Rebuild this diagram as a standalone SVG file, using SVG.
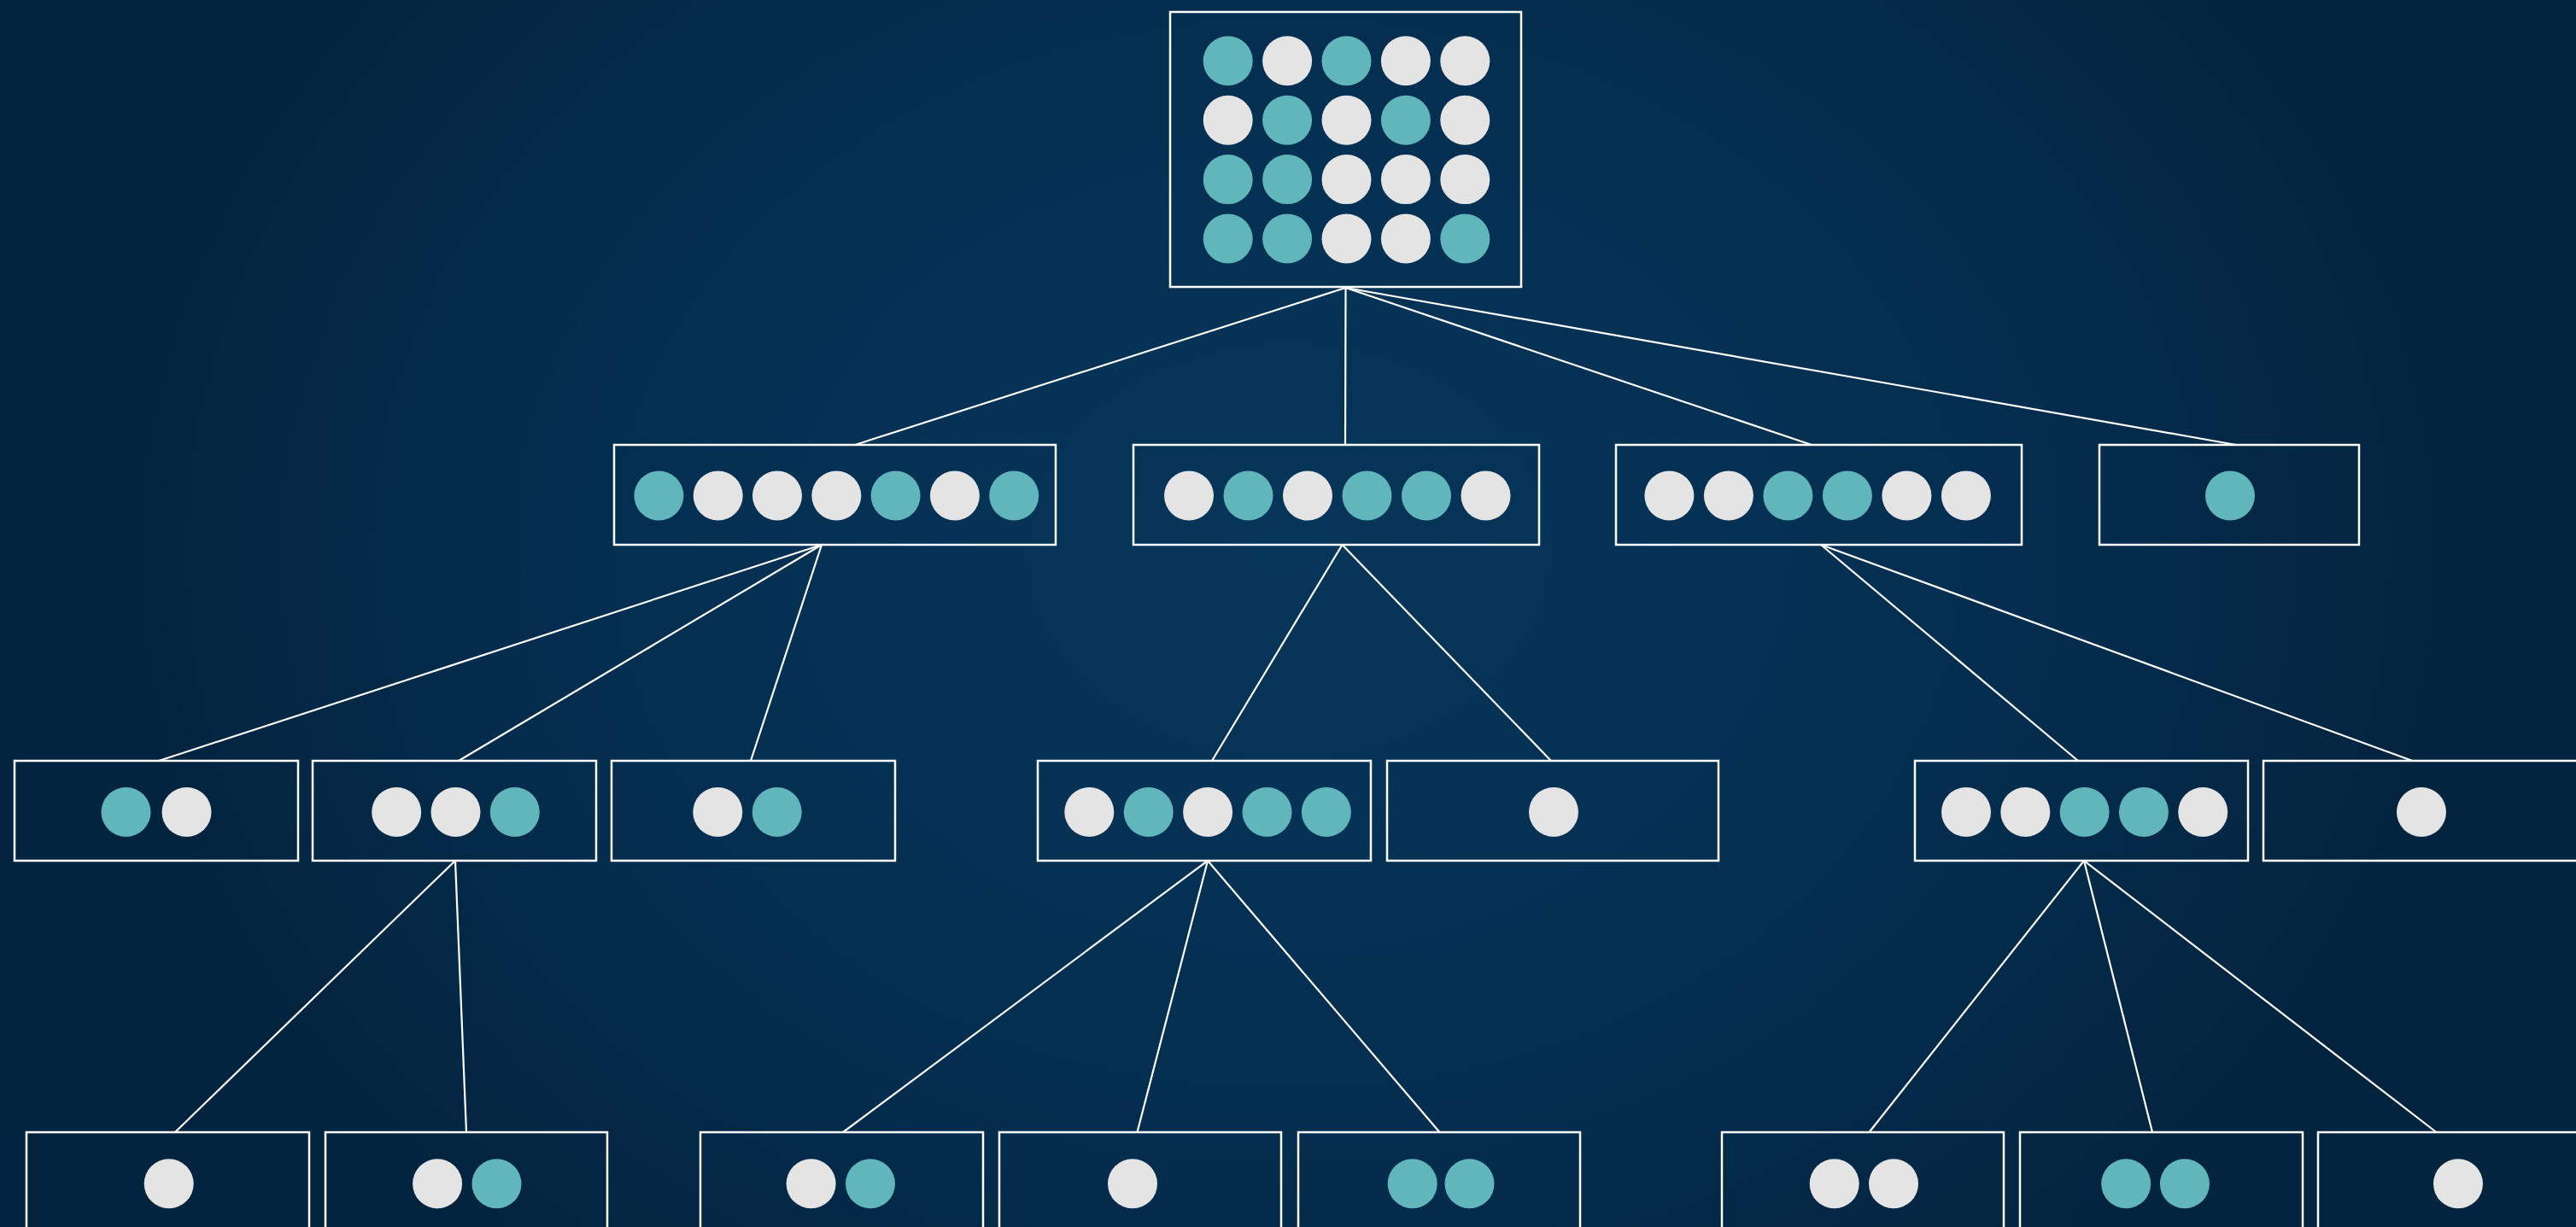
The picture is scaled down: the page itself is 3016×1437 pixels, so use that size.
<svg xmlns="http://www.w3.org/2000/svg" width="3016" height="1437" viewBox="0 0 3016 1437">
<defs>
<radialGradient id="bg" cx="0.5" cy="0.45" r="0.75" gradientTransform="translate(0.5 0.45) scale(0.6 1) translate(-0.5 -0.45)">
<stop offset="0" stop-color="#063659"/>
<stop offset="0.6" stop-color="#042e50"/>
<stop offset="1" stop-color="#03243f"/>
</radialGradient>
<style>
.box{fill:none;stroke:#ffffff;stroke-width:2.5}
.t{fill:#60b6bb}
.w{fill:#e4e4e4}
.edges line{stroke:#ffffff;stroke-width:2.2}
</style>
</defs>
<rect x="0" y="0" width="3016" height="1437" fill="url(#bg)"/>
<g class="edges" id="connectors">
<line x1="1575.5" y1="337" x2="1001" y2="521"/>
<line x1="1575.5" y1="337" x2="1575" y2="521"/>
<line x1="1575.5" y1="337" x2="2121" y2="521"/>
<line x1="1575.5" y1="337" x2="2618" y2="521"/>
<line x1="962" y1="638" x2="186" y2="891"/>
<line x1="962" y1="638" x2="537" y2="891"/>
<line x1="962" y1="638" x2="879" y2="891"/>
<line x1="1571.5" y1="638" x2="1419" y2="891"/>
<line x1="1571.5" y1="638" x2="1816" y2="891"/>
<line x1="2132" y1="638" x2="2433" y2="891"/>
<line x1="2132" y1="638" x2="2824.5" y2="891"/>
<line x1="533" y1="1008" x2="205" y2="1326"/>
<line x1="533" y1="1008" x2="546" y2="1326"/>
<line x1="1414" y1="1008" x2="987" y2="1326"/>
<line x1="1414" y1="1008" x2="1331.5" y2="1326"/>
<line x1="1414" y1="1008" x2="1685.5" y2="1326"/>
<line x1="2440" y1="1008" x2="2188.5" y2="1326"/>
<line x1="2440" y1="1008" x2="2520" y2="1326"/>
<line x1="2440" y1="1008" x2="2852.5" y2="1326"/>
</g>
<g id="root">
<rect class="box" x="1370" y="14" width="411" height="322"/>
<circle class="t" cx="1437.7" cy="71.3" r="29"/>
<circle class="w" cx="1507.1" cy="71.3" r="29"/>
<circle class="t" cx="1576.5" cy="71.3" r="29"/>
<circle class="w" cx="1645.9" cy="71.3" r="29"/>
<circle class="w" cx="1715.3" cy="71.3" r="29"/>
<circle class="w" cx="1437.7" cy="140.7" r="29"/>
<circle class="t" cx="1507.1" cy="140.7" r="29"/>
<circle class="w" cx="1576.5" cy="140.7" r="29"/>
<circle class="t" cx="1645.9" cy="140.7" r="29"/>
<circle class="w" cx="1715.3" cy="140.7" r="29"/>
<circle class="t" cx="1437.7" cy="210.1" r="29"/>
<circle class="t" cx="1507.1" cy="210.1" r="29"/>
<circle class="w" cx="1576.5" cy="210.1" r="29"/>
<circle class="w" cx="1645.9" cy="210.1" r="29"/>
<circle class="w" cx="1715.3" cy="210.1" r="29"/>
<circle class="t" cx="1437.7" cy="279.5" r="29"/>
<circle class="t" cx="1507.1" cy="279.5" r="29"/>
<circle class="w" cx="1576.5" cy="279.5" r="29"/>
<circle class="w" cx="1645.9" cy="279.5" r="29"/>
<circle class="t" cx="1715.3" cy="279.5" r="29"/>
</g>
<g id="nodeA">
<rect class="box" x="719" y="521" width="517" height="117"/>
<circle class="t" cx="771.4" cy="580.5" r="29"/>
<circle class="w" cx="840.7" cy="580.5" r="29"/>
<circle class="w" cx="910" cy="580.5" r="29"/>
<circle class="w" cx="979.3" cy="580.5" r="29"/>
<circle class="t" cx="1048.6" cy="580.5" r="29"/>
<circle class="w" cx="1117.9" cy="580.5" r="29"/>
<circle class="t" cx="1187.2" cy="580.5" r="29"/>
</g>
<g id="nodeB">
<rect class="box" x="1327" y="521" width="475" height="117"/>
<circle class="w" cx="1392" cy="580.5" r="29"/>
<circle class="t" cx="1461.5" cy="580.5" r="29"/>
<circle class="w" cx="1531" cy="580.5" r="29"/>
<circle class="t" cx="1600.5" cy="580.5" r="29"/>
<circle class="t" cx="1670" cy="580.5" r="29"/>
<circle class="w" cx="1739.5" cy="580.5" r="29"/>
</g>
<g id="nodeC">
<rect class="box" x="1892" y="521" width="475" height="117"/>
<circle class="w" cx="1954.4" cy="580.5" r="29"/>
<circle class="w" cx="2023.9" cy="580.5" r="29"/>
<circle class="t" cx="2093.4" cy="580.5" r="29"/>
<circle class="t" cx="2162.9" cy="580.5" r="29"/>
<circle class="w" cx="2232.4" cy="580.5" r="29"/>
<circle class="w" cx="2301.9" cy="580.5" r="29"/>
</g>
<g id="nodeD">
<rect class="box" x="2458" y="521" width="304" height="117"/>
<circle class="t" cx="2611" cy="580.5" r="29"/>
</g>
<g id="nodeA1">
<rect class="box" x="17" y="891" width="332" height="117"/>
<circle class="t" cx="147.5" cy="951" r="29"/>
<circle class="w" cx="218.5" cy="951" r="29"/>
</g>
<g id="nodeA2">
<rect class="box" x="366" y="891" width="332" height="117"/>
<circle class="w" cx="464.2" cy="951" r="29"/>
<circle class="w" cx="533.5" cy="951" r="29"/>
<circle class="t" cx="602.8" cy="951" r="29"/>
</g>
<g id="nodeA3">
<rect class="box" x="716" y="891" width="332" height="117"/>
<circle class="w" cx="840.3" cy="951" r="29"/>
<circle class="t" cx="909.7" cy="951" r="29"/>
</g>
<g id="nodeB1">
<rect class="box" x="1215" y="891" width="390" height="117"/>
<circle class="w" cx="1275.3" cy="951" r="29"/>
<circle class="t" cx="1344.7" cy="951" r="29"/>
<circle class="w" cx="1414.1" cy="951" r="29"/>
<circle class="t" cx="1483.5" cy="951" r="29"/>
<circle class="t" cx="1552.9" cy="951" r="29"/>
</g>
<g id="nodeB2">
<rect class="box" x="1624" y="891" width="388" height="117"/>
<circle class="w" cx="1819" cy="951" r="29"/>
</g>
<g id="nodeC1">
<rect class="box" x="2242" y="891" width="390" height="117"/>
<circle class="w" cx="2302" cy="951" r="29"/>
<circle class="w" cx="2371.3" cy="951" r="29"/>
<circle class="t" cx="2440.6" cy="951" r="29"/>
<circle class="t" cx="2509.9" cy="951" r="29"/>
<circle class="w" cx="2579.2" cy="951" r="29"/>
</g>
<g id="nodeC2">
<rect class="box" x="2650" y="891" width="390" height="117"/>
<circle class="w" cx="2835" cy="951" r="29"/>
</g>
<g id="nodeD1">
<rect class="box" x="31" y="1326" width="331" height="117"/>
<circle class="w" cx="197.7" cy="1386.3" r="29"/>
</g>
<g id="nodeD2">
<rect class="box" x="381" y="1326" width="330" height="117"/>
<circle class="w" cx="512.1" cy="1386.3" r="29"/>
<circle class="t" cx="581.5" cy="1386.3" r="29"/>
</g>
<g id="nodeD3">
<rect class="box" x="820" y="1326" width="331" height="117"/>
<circle class="w" cx="949.6" cy="1386.3" r="29"/>
<circle class="t" cx="1019" cy="1386.3" r="29"/>
</g>
<g id="nodeD4">
<rect class="box" x="1170" y="1326" width="330" height="117"/>
<circle class="w" cx="1326" cy="1386.3" r="29"/>
</g>
<g id="nodeD5">
<rect class="box" x="1520" y="1326" width="330" height="117"/>
<circle class="t" cx="1653.7" cy="1386.3" r="29"/>
<circle class="t" cx="1720.5" cy="1386.3" r="29"/>
</g>
<g id="nodeD6">
<rect class="box" x="2016" y="1326" width="330" height="117"/>
<circle class="w" cx="2147.7" cy="1386.3" r="29"/>
<circle class="w" cx="2217" cy="1386.3" r="29"/>
</g>
<g id="nodeD7">
<rect class="box" x="2365" y="1326" width="331" height="117"/>
<circle class="t" cx="2489.2" cy="1386.3" r="29"/>
<circle class="t" cx="2557.9" cy="1386.3" r="29"/>
</g>
<g id="nodeD8">
<rect class="box" x="2714" y="1326" width="331" height="117"/>
<circle class="w" cx="2878" cy="1386.3" r="29"/>
</g>
</svg>
